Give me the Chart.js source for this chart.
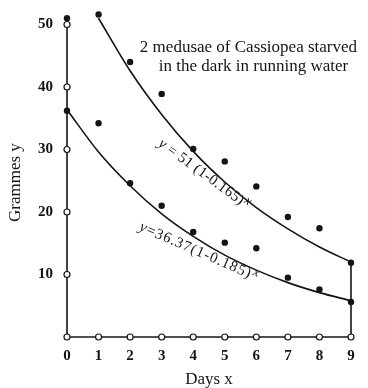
<!DOCTYPE html>
<html lang="en">
<head>
<meta charset="UTF-8">
<title>Cassiopea starved in the dark</title>
<script src="https://cdn.jsdelivr.net/npm/chart.js"></script>
<style>
  html, body { margin: 0; padding: 0; background: #fff; }
  #wrap { width: 368px; height: 388px; }
</style>
</head>
<body>
<div id="wrap"><canvas id="chart"></canvas></div>
<script>
const days = [0, 1, 2, 3, 4, 5, 6, 7, 8, 9];
// weights of the two medusae, grammes
const medusaA = [51.0, 51.6, 44.0, 38.9, 30.1, 28.1, 24.1, 19.2, 17.4, 11.9];
const medusaB = [36.2, 34.2, 24.6, 21.0, 16.8, 15.1, 14.2, 9.5, 7.6, 5.6];
// fitted curves, read at whole days
const curveDaysA = [1, 2, 3, 4, 5, 6, 7, 8, 9];
const curveA = [51.0, 42.6, 35.6, 29.7, 24.8, 20.7, 17.3, 14.4, 12.0];
const curveB = [36.37, 29.6, 24.2, 19.7, 16.1, 13.1, 10.7, 8.7, 7.1, 5.8];
const yTicks = [10, 20, 30, 40, 50];
const titleLines = ['2 medusae of Cassiopea starved', 'in the dark in running water'];
const formulaA = ['y', ' = 51 (1-0.165)', 'x'];
const formulaB = ['y', '=36.37(1-0.185)', 'x'];
const yTitle = 'Grammes y';
const xTitle = 'Days x';

const INK = '#141414';
const SERIF = '"Liberation Serif", "DejaVu Serif", serif';

const pts = (xs, ys) => xs.map((d, i) => ({ x: d, y: ys[i] }));

function drawFormula(ctx, parts, cx, cy, deg, size, spacing) {
  ctx.save();
  ctx.letterSpacing = spacing + 'px';
  const fItalic = 'italic ' + size + 'px ' + SERIF;
  const fMain = size + 'px ' + SERIF;
  const fSup = 'italic ' + (size - 2) + 'px ' + SERIF;
  ctx.font = fItalic; const w0 = ctx.measureText(parts[0]).width;
  ctx.font = fMain; const w1 = ctx.measureText(parts[1]).width;
  ctx.font = fSup; const w2 = ctx.measureText(parts[2]).width;
  const total = w0 + w1 + w2;
  ctx.translate(cx, cy);
  ctx.rotate(deg * Math.PI / 180);
  ctx.textAlign = 'left';
  ctx.textBaseline = 'middle';
  let px = -total / 2;
  ctx.font = fItalic; ctx.fillText(parts[0], px, 0); px += w0;
  ctx.font = fMain; ctx.fillText(parts[1], px, 0); px += w1;
  ctx.font = fSup; ctx.fillText(parts[2], px + 1, -4);
  ctx.restore();
}

const notes = {
  id: 'notes',
  afterDatasetsDraw(chart) {
    const { ctx, scales: { x, y } } = chart;
    ctx.save();
    ctx.fillStyle = INK;
    ctx.font = '17px ' + SERIF;
    ctx.textAlign = 'center';
    ctx.textBaseline = 'middle';
    ctx.fillText(titleLines[0], x.getPixelForValue(5.75), y.getPixelForValue(46.3));
    ctx.fillText(titleLines[1], x.getPixelForValue(5.91), y.getPixelForValue(43.2));
    drawFormula(ctx, formulaA, x.getPixelForValue(4.33), y.getPixelForValue(26.1), 36, 15, 0.3);
    drawFormula(ctx, formulaB, x.getPixelForValue(4.17), y.getPixelForValue(13.6), 23.5, 15, 1);

    // vertical axis title
    ctx.save();
    ctx.translate(16, y.getPixelForValue(24.7));
    ctx.rotate(-Math.PI / 2);
    ctx.fillText(yTitle, 0, 0);
    ctx.restore();
    ctx.restore();
  }
};

const openDot = {
  pointRadius: 3, pointBorderWidth: 1.2,
  pointBackgroundColor: '#fff', pointBorderColor: INK
};
const solidDot = {
  pointRadius: 3.2, pointBorderWidth: 0,
  pointBackgroundColor: INK, pointBorderColor: INK, showLine: false
};
const plainLine = { showLine: true, pointRadius: 0, borderColor: INK, borderWidth: 1.6 };

new Chart(document.getElementById('chart'), {
  type: 'scatter',
  data: {
    datasets: [
      { data: pts(days, days.map(() => 0)), showLine: true, borderColor: INK, borderWidth: 1.6, ...openDot },
      { data: yTicks.map(v => ({ x: 0, y: v })), showLine: false, ...openDot },
      { data: pts(days, medusaA), ...solidDot },
      { data: pts(days, medusaB), ...solidDot },
      { data: [{ x: 0, y: 0 }, { x: 0, y: medusaA[0] }], ...plainLine },
      { data: [{ x: 9, y: 0 }, { x: 9, y: curveA[curveA.length - 1] }], ...plainLine },
      { data: pts(curveDaysA, curveA), ...plainLine, cubicInterpolationMode: 'monotone' },
      { data: pts(days, curveB), ...plainLine, cubicInterpolationMode: 'monotone' }
    ]
  },
  options: {
    responsive: true,
    maintainAspectRatio: false,
    animation: false,
    clip: false,
    layout: { padding: { top: 12, right: 17, bottom: 0, left: 0 } },
    plugins: { legend: { display: false }, tooltip: { enabled: false } },
    scales: {
      x: {
        type: 'linear', min: 0, max: 9,
        grid: { display: false, drawTicks: false },
        border: { display: false },
        afterBuildTicks: s => { s.ticks = days.map(v => ({ value: v })); },
        afterFit: s => { s.height = 51; s.paddingLeft = 0; s.paddingRight = 0; },
        ticks: { color: INK, padding: 10, font: { family: SERIF, size: 15, weight: 'bold' } },
        title: { display: true, text: xTitle, color: INK, padding: { top: 4, bottom: -2 },
                 font: { family: SERIF, size: 17 } }
      },
      y: {
        type: 'linear', min: 0, max: 52,
        grid: { display: false, drawTicks: false },
        border: { display: false },
        afterBuildTicks: s => { s.ticks = yTicks.map(v => ({ value: v })); },
        afterFit: s => { s.width = 67; s.paddingTop = 0; s.paddingBottom = 0; },
        ticks: { color: INK, padding: 14, font: { family: SERIF, size: 15, weight: 'bold' } },
        title: { display: false, text: yTitle }
      }
    }
  },
  plugins: [notes]
});
</script>
</body>
</html>
